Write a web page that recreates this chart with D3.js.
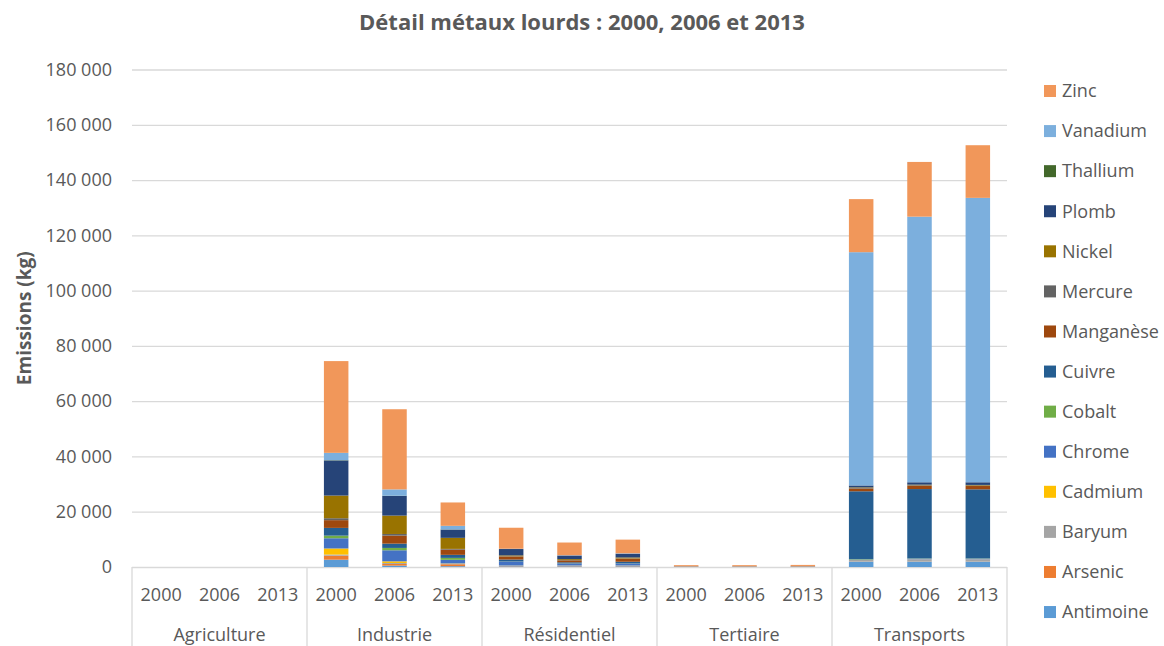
<!DOCTYPE html>
<html>
<head>
<meta charset="utf-8">
<script src="https://cdn.jsdelivr.net/npm/d3@7"></script>
<style>
  html, body { margin: 0; padding: 0; background: #fff; }
  svg { display: block; font-family: "Open Sans", sans-serif; }
</style>
</head>
<body>
<svg id="chart" width="1164" height="646"></svg>
<script>
// Sectors and years (multi-level category axis)
const sectors = ["Agriculture", "Industrie", "Résidentiel", "Tertiaire", "Transports"];
const years = ["2000", "2006", "2013"];
const yTicks = [0, 20000, 40000, 60000, 80000, 100000, 120000, 140000, 160000, 180000];

// Emissions in kg, 15 values per metal: sector by sector, years 2000 / 2006 / 2013
const antimoine = [0, 0, 0, 2650, 500, 300, 250, 250, 250, 30, 30, 30, 1900, 1900, 1900];
const arsenic   = [0, 0, 0, 1450, 600, 700, 100, 100, 100, 5, 5, 5, 30, 30, 30];
const baryum    = [0, 0, 0, 400, 350, 200, 150, 150, 150, 10, 10, 10, 600, 850, 850];
const cadmium   = [0, 0, 0, 2200, 600, 100, 50, 50, 50, 2, 2, 2, 20, 20, 20];
const chrome    = [0, 0, 0, 3700, 4000, 1300, 1400, 700, 700, 20, 20, 20, 200, 200, 200];
const cobalt    = [0, 0, 0, 950, 850, 700, 50, 50, 50, 2, 2, 2, 150, 100, 100];
const cuivre    = [0, 0, 0, 2800, 1550, 1100, 700, 400, 600, 80, 80, 90, 24500, 25100, 25000];
const manganese = [0, 0, 0, 2800, 2900, 1900, 1100, 700, 1100, 10, 10, 10, 1000, 1200, 1200];
const mercure   = [0, 0, 0, 700, 600, 250, 100, 100, 100, 2, 2, 2, 200, 200, 200];
const nickel    = [0, 0, 0, 8200, 6650, 4000, 300, 350, 350, 20, 20, 20, 200, 200, 200];
const plomb     = [0, 0, 0, 12700, 7100, 3000, 2300, 1300, 1350, 40, 40, 40, 700, 850, 950];
const thallium  = [0, 0, 0, 100, 80, 50, 5, 5, 5, 0, 0, 0, 5, 5, 5];
const vanadium  = [0, 0, 0, 2650, 2300, 1300, 100, 100, 150, 5, 5, 5, 84400, 96100, 102900];
const zinc      = [0, 0, 0, 33200, 29000, 8450, 7600, 4600, 4950, 450, 450, 520, 19200, 19800, 19050];

// Series in stacking order (bottom to top)
const metals = [
  { name: "Antimoine", color: "#5b9bd5", values: antimoine },
  { name: "Arsenic",   color: "#ed7d31", values: arsenic },
  { name: "Baryum",    color: "#a5a5a5", values: baryum },
  { name: "Cadmium",   color: "#ffc000", values: cadmium },
  { name: "Chrome",    color: "#4472c4", values: chrome },
  { name: "Cobalt",    color: "#70ad47", values: cobalt },
  { name: "Cuivre",    color: "#255e91", values: cuivre },
  { name: "Manganèse", color: "#9e480e", values: manganese },
  { name: "Mercure",   color: "#636363", values: mercure },
  { name: "Nickel",    color: "#997300", values: nickel },
  { name: "Plomb",     color: "#264478", values: plomb },
  { name: "Thallium",  color: "#43682b", values: thallium },
  { name: "Vanadium",  color: "#7cafdd", values: vanadium },
  { name: "Zinc",      color: "#f1975a", values: zinc }
];

const textColor = "#595959";
const gridColor = "#d9d9d9";

const svg = d3.select("#chart");
const margin = { left: 132, right: 157, top: 69.5, bottom: 79 };
const W = 1164, H = 646;
const plotW = W - margin.left - margin.right;
const plotH = H - margin.top - margin.bottom;

// Build one row per sector/year slot
const rows = [];
sectors.forEach((s, si) => years.forEach((yr, yi) => {
  const row = { key: s + "|" + yr, sector: s, year: yr };
  metals.forEach(m => { row[m.name] = m.values[si * 3 + yi]; });
  rows.push(row);
}));

const xSector = d3.scaleBand().domain(sectors).range([0, plotW]).padding(0);
const xYear = d3.scaleBand().domain(years).range([0, xSector.bandwidth()])
  .paddingInner(0.58).paddingOuter(0.29);
const y = d3.scaleLinear().domain([0, 180000]).range([plotH, 0]);

const fr = d3.formatLocale({ decimal: ",", thousands: " ", grouping: [3], currency: ["", ""] });
const fmt = fr.format(",d");

const g = svg.append("g").attr("transform", `translate(${margin.left},${margin.top})`);

// Gridlines + y tick labels
const yAxis = g.append("g")
  .call(d3.axisLeft(y).tickValues(yTicks).tickFormat(fmt).tickSize(-plotW).tickPadding(20));
yAxis.select(".domain").remove();
yAxis.selectAll(".tick line").attr("stroke", gridColor).attr("stroke-width", 1.3);
yAxis.selectAll(".tick text")
  .attr("fill", textColor).style("font-size", "18px").style("font-family", "'Open Sans', sans-serif");

// Stacked bars
const stack = d3.stack().keys(metals.map(m => m.name));
const series = stack(rows);
const colorOf = Object.fromEntries(metals.map(m => [m.name, m.color]));

g.append("g").selectAll("g").data(series).join("g")
  .attr("fill", d => colorOf[d.key])
  .selectAll("rect").data(d => d).join("rect")
  .attr("x", d => xSector(d.data.sector) + xYear(d.data.year))
  .attr("width", xYear.bandwidth())
  .attr("y", d => y(d[1]))
  .attr("height", d => Math.max(0, y(d[0]) - y(d[1])));

// Category axis: separator lines
const sepX = sectors.map(s => xSector(s)).concat([plotW]);
g.append("g").selectAll("line").data(sepX).join("line")
  .attr("x1", d => d).attr("x2", d => d)
  .attr("y1", plotH).attr("y2", plotH + margin.bottom)
  .attr("stroke", gridColor).attr("stroke-width", 1.3);

// Year labels
const yearLabels = g.append("g");
sectors.forEach(s => {
  yearLabels.selectAll(null).data(years).join("text")
    .attr("x", yr => xSector(s) + xYear(yr) + xYear.bandwidth() / 2)
    .attr("y", plotH + 34)
    .attr("text-anchor", "middle")
    .attr("fill", textColor)
    .style("font-size", "18px")
    .text(yr => yr);
});

// Sector labels
g.append("g").selectAll("text").data(sectors).join("text")
  .attr("x", s => xSector(s) + xSector.bandwidth() / 2)
  .attr("y", plotH + 74)
  .attr("text-anchor", "middle")
  .attr("fill", textColor)
  .style("font-size", "18px")
  .text(s => s);

// Title
svg.append("text")
  .attr("x", 582).attr("y", 30)
  .attr("text-anchor", "middle")
  .attr("fill", textColor)
  .style("font-size", "22px").style("font-weight", "bold")
  .text("Détail métaux lourds : 2000, 2006 et 2013");

// Y axis title
svg.append("text")
  .attr("transform", `translate(31,${margin.top + plotH / 2}) rotate(-90)`)
  .attr("text-anchor", "middle")
  .attr("fill", textColor)
  .style("font-size", "19px").style("font-weight", "bold")
  .text("Emissions (kg)");

// Legend (top item = last stacked series)
const legendItems = metals.slice().reverse();
const legend = svg.append("g").attr("transform", "translate(1044,91)");
const li = legend.selectAll("g").data(legendItems).join("g")
  .attr("transform", (d, i) => `translate(0,${i * 40.08})`);
li.append("rect").attr("x", 0).attr("y", -6).attr("width", 12).attr("height", 12)
  .attr("fill", d => d.color);
li.append("text").attr("x", 18).attr("y", 0).attr("dy", "0.35em")
  .attr("fill", textColor).style("font-size", "18px")
  .text(d => d.name);
</script>
</body>
</html>
